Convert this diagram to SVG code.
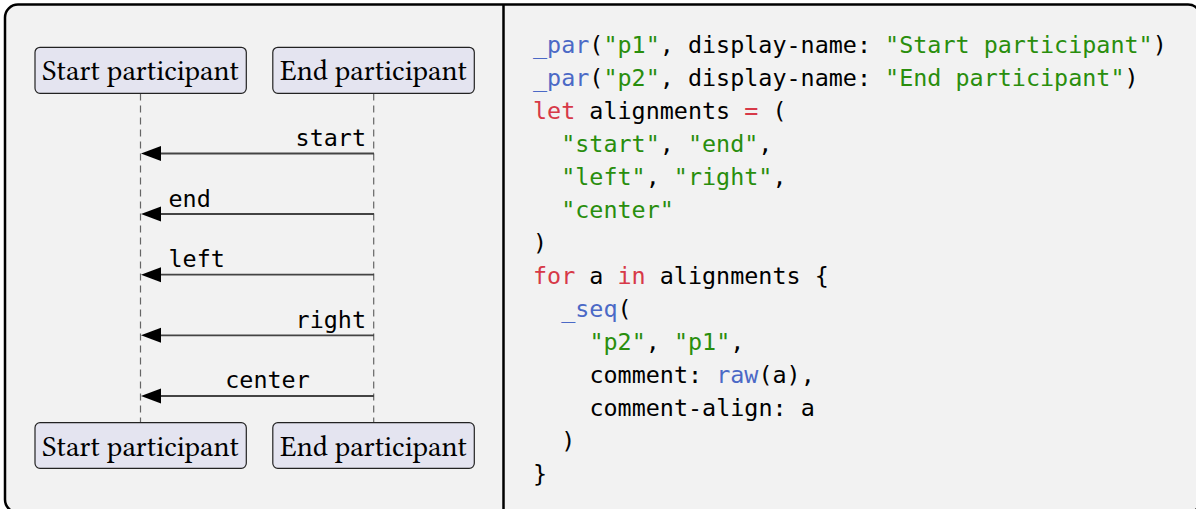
<svg xmlns="http://www.w3.org/2000/svg" width="1196" height="509" viewBox="0 0 1196 509">
  <defs>
    <style>
      .frame { fill: #f2f2f2; stroke: #000; stroke-width: 2.5; }
      .divider { stroke: #000; stroke-width: 2.5; }
      .pbox { fill: #e4e4f0; stroke: #222; stroke-width: 1.2; }
      .ptext { font-family: "Libertinus Serif", "Liberation Serif", serif; font-size: 29.5px; fill: #000; text-anchor: middle; }
      .life { stroke: #666; stroke-width: 1.2; stroke-dasharray: 7 5; fill: none; }
      .msg { stroke: #444; stroke-width: 1.8; fill: none; }
      .head { fill: #000; }
      .lbl { font-family: "DejaVu Sans Mono", monospace; font-size: 23.4px; fill: #000; }
      .code { font-family: "DejaVu Sans Mono", monospace; font-size: 23.4px; fill: #000; }
      .f { fill: #4b69c6; }
      .s { fill: #298e0d; }
      .k { fill: #d73948; }
    </style>
  </defs>

  <rect class="frame" x="5" y="4.5" width="1196" height="508" rx="13" ry="13"/>
  <line class="divider" x1="503.5" y1="4" x2="503.5" y2="509"/>

  <g id="lifelines">
    <line class="life" x1="140.5" y1="93.5" x2="140.5" y2="422.5"/>
    <line class="life" x1="373.7" y1="93.5" x2="373.7" y2="422.5"/>
  </g>

  <g id="connectors">
    <g id="msg-start">
      <line class="msg" x1="374" y1="153.5" x2="158" y2="153.5"/>
      <polygon class="head" points="141,153.5 161,146 161,161"/>
      <text class="lbl" x="366" y="146" text-anchor="end">start</text>
    </g>
    <g id="msg-end">
      <line class="msg" x1="374" y1="214" x2="158" y2="214"/>
      <polygon class="head" points="141,214 161,206.5 161,221.5"/>
      <text class="lbl" x="168.5" y="206.5">end</text>
    </g>
    <g id="msg-left">
      <line class="msg" x1="374" y1="274.7" x2="158" y2="274.7"/>
      <polygon class="head" points="141,274.7 161,267.2 161,282.2"/>
      <text class="lbl" x="168.5" y="267">left</text>
    </g>
    <g id="msg-right">
      <line class="msg" x1="374" y1="335.3" x2="158" y2="335.3"/>
      <polygon class="head" points="141,335.3 161,327.8 161,342.8"/>
      <text class="lbl" x="366" y="327.5" text-anchor="end">right</text>
    </g>
    <g id="msg-center">
      <line class="msg" x1="374" y1="396" x2="158" y2="396"/>
      <polygon class="head" points="141,396 161,388.5 161,403.5"/>
      <text class="lbl" x="267.5" y="387.5" text-anchor="middle">center</text>
    </g>
  </g>

  <g id="p1-top">
    <rect class="pbox" x="35" y="47.3" width="211.3" height="46" rx="5"/>
    <text class="ptext" x="140.6" y="80">Start participant</text>
  </g>
  <g id="p2-top">
    <rect class="pbox" x="272.8" y="47.3" width="201.5" height="46" rx="5"/>
    <text class="ptext" x="373.5" y="80">End participant</text>
  </g>
  <g id="p1-bottom">
    <rect class="pbox" x="35" y="422.7" width="211.3" height="45.6" rx="5"/>
    <text class="ptext" x="140.6" y="455.5">Start participant</text>
  </g>
  <g id="p2-bottom">
    <rect class="pbox" x="272.8" y="422.7" width="201.5" height="45.6" rx="5"/>
    <text class="ptext" x="373.5" y="455.5">End participant</text>
  </g>

  <g id="code">
    <text class="code" x="533" y="52.5"><tspan class="f">_par</tspan>(<tspan class="s">"p1"</tspan>, display-name: <tspan class="s">"Start participant"</tspan>)</text>
    <text class="code" x="533" y="85.5"><tspan class="f">_par</tspan>(<tspan class="s">"p2"</tspan>, display-name: <tspan class="s">"End participant"</tspan>)</text>
    <text class="code" x="533" y="118.5"><tspan class="k">let</tspan> alignments <tspan class="k">=</tspan> (</text>
    <text class="code" x="561.2" y="151.5"><tspan class="s">"start"</tspan>, <tspan class="s">"end"</tspan>,</text>
    <text class="code" x="561.2" y="184.5"><tspan class="s">"left"</tspan>, <tspan class="s">"right"</tspan>,</text>
    <text class="code" x="561.2" y="217.5"><tspan class="s">"center"</tspan></text>
    <text class="code" x="533" y="250.5">)</text>
    <text class="code" x="533" y="283.5"><tspan class="k">for</tspan> a <tspan class="k">in</tspan> alignments {</text>
    <text class="code" x="561.2" y="316.5"><tspan class="f">_seq</tspan>(</text>
    <text class="code" x="589.4" y="349.5"><tspan class="s">"p2"</tspan>, <tspan class="s">"p1"</tspan>,</text>
    <text class="code" x="589.4" y="382.5">comment: <tspan class="f">raw</tspan>(a),</text>
    <text class="code" x="589.4" y="415.5">comment-align: a</text>
    <text class="code" x="561.2" y="448.5">)</text>
    <text class="code" x="533" y="481.5">}</text>
  </g>
</svg>
